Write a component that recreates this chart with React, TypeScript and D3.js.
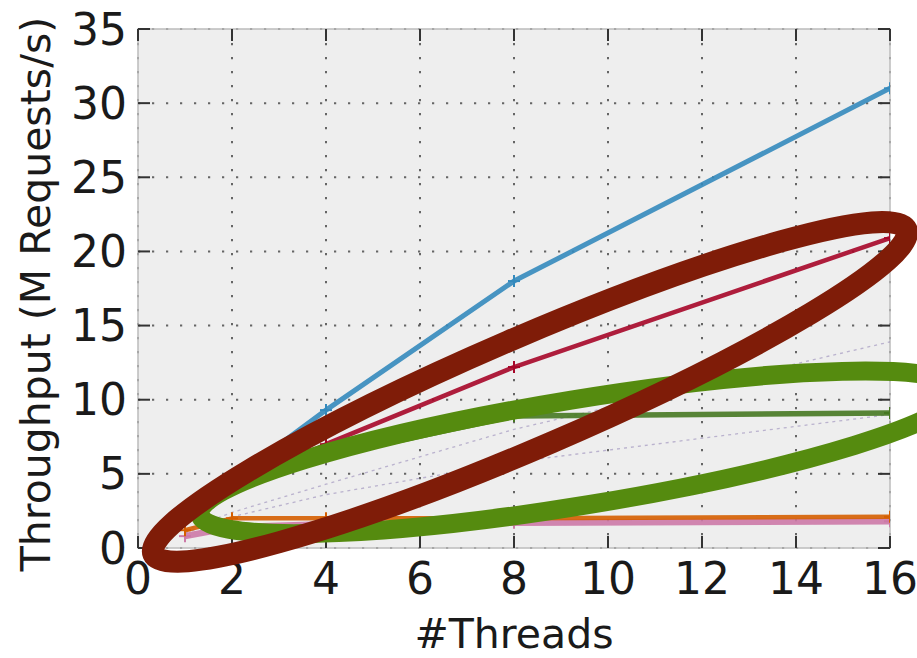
import React from "react";
import * as d3 from "d3";

const threads = [1, 2, 4, 8, 16];
const blueSeries = [2.3, 4.6, 9.3, 18.0, 31.0];
const redSeries = [2.1, 4.0, 7.0, 12.2, 20.9];
const greenSeries = [2.0, 4.0, 6.2, 8.9, 9.1];
const orangeSeries = [1.2, 2.0, 2.0, 2.0, 2.1];
const pinkSeries = [0.8, 1.4, 1.6, 1.7, 1.8];
const lilacSeriesA = [1.2, 2.4, 4.3, 8.0, 13.9];
const lilacSeriesB = [1.0, 2.1, 3.6, 5.8, 9.0];

const xTicks = [0, 2, 4, 6, 8, 10, 12, 14, 16];
const yTicks = [0, 5, 10, 15, 20, 25, 30, 35];

const W = 917;
const H = 658;
const left = 138;
const right = 890;
const top = 29;
const bottom = 548;

const FONT = "'DejaVu Sans', sans-serif";

export default function App() {
  const x = d3.scaleLinear().domain([0, 16]).range([left, right]);
  const y = d3.scaleLinear().domain([0, 35]).range([bottom, top]);
  const line = d3
    .line<number>()
    .x((_, i) => x(threads[i]))
    .y((d) => y(d));

  const solid = [
    { vals: pinkSeries, color: "#CC79A7", w: 6.5 },
    { vals: orangeSeries, color: "#D55E00", w: 4.5 },
    { vals: greenSeries, color: "#467821", w: 5.5 },
    { vals: redSeries, color: "#A60628", w: 4.5 },
    { vals: blueSeries, color: "#348ABD", w: 5 },
  ];

  // annotation ellipses, centred in data units
  const redEll = { cx: x(8.34), cy: y(10.53), rx: 410, ry: 55, rot: -23.3 };
  const greenEll = { cx: x(9.4), cy: y(6.45), rx: 385, ry: 53, rot: -9.3 };

  return (
    <svg
      width={W}
      height={H}
      style={{ position: "absolute", left: 0, top: 0, display: "block", background: "#fff" }}
    >
      <defs>
        <clipPath id="plotclip">
          <rect x={left} y={top} width={right - left} height={bottom - top} />
        </clipPath>
      </defs>
      <rect x={left} y={top} width={right - left} height={bottom - top} fill="#eeeeee" />
      {xTicks.map((t) => (
        <line
          key={"gx" + t}
          x1={x(t)}
          x2={x(t)}
          y1={top}
          y2={bottom}
          stroke="#444"
          strokeWidth={2}
          strokeDasharray="2.2 11.8"
          opacity={0.8}
        />
      ))}
      {yTicks.map((t) => (
        <line
          key={"gy" + t}
          x1={left}
          x2={right}
          y1={y(t)}
          y2={y(t)}
          stroke="#444"
          strokeWidth={2}
          strokeDasharray="2.2 11.8"
          opacity={0.8}
        />
      ))}
      <rect
        x={left}
        y={top}
        width={right - left}
        height={bottom - top}
        fill="none"
        stroke="#bcbcbc"
        strokeWidth={1.5}
      />
      {xTicks.map((t) => (
        <g key={"tx" + t} stroke="#333" strokeWidth={2}>
          <line x1={x(t)} x2={x(t)} y1={bottom} y2={bottom - 12} />
          <line x1={x(t)} x2={x(t)} y1={top} y2={top + 12} />
        </g>
      ))}
      {yTicks.map((t) => (
        <g key={"ty" + t} stroke="#333" strokeWidth={2}>
          <line x1={left} x2={left + 12} y1={y(t)} y2={y(t)} />
          <line x1={right} x2={right - 12} y1={y(t)} y2={y(t)} />
        </g>
      ))}
      <g clipPath="url(#plotclip)">
        {[lilacSeriesA, lilacSeriesB].map((s, i) => (
          <path
            key={"l" + i}
            d={line(s) || ""}
            fill="none"
            stroke="#7A68A6"
            strokeWidth={1.3}
            strokeDasharray="3 4"
            opacity={0.45}
          />
        ))}
        {solid.map((s, i) => (
          <g key={"s" + i}>
            <path
              d={line(s.vals) || ""}
              fill="none"
              stroke={s.color}
              strokeWidth={s.w}
              strokeLinejoin="round"
              opacity={0.9}
            />
            {s.vals.map((v, j) => (
              <g key={j} stroke={s.color} strokeWidth={2}>
                <line x1={x(threads[j]) - 6} x2={x(threads[j]) + 6} y1={y(v)} y2={y(v)} />
                <line x1={x(threads[j])} x2={x(threads[j])} y1={y(v) - 6} y2={y(v) + 6} />
              </g>
            ))}
          </g>
        ))}
      </g>
      {xTicks.map((t) => (
        <text
          key={"lx" + t}
          x={x(t)}
          y={594}
          textAnchor="middle"
          fontFamily={FONT}
          fontSize={44}
          fill="#1a1a1a"
        >
          {t}
        </text>
      ))}
      {yTicks.map((t) => (
        <text
          key={"ly" + t}
          x={127}
          y={y(t)}
          textAnchor="end"
          dominantBaseline="central"
          fontFamily={FONT}
          fontSize={44}
          fill="#1a1a1a"
        >
          {t}
        </text>
      ))}
      <text
        x={514}
        y={648}
        textAnchor="middle"
        fontFamily={FONT}
        fontSize={41}
        fill="#1a1a1a"
      >
        #Threads
      </text>
      <text
        transform={`translate(36, ${294}) rotate(-90)`}
        textAnchor="middle"
        dominantBaseline="central"
        fontFamily={FONT}
        fontSize={41}
        fill="#1a1a1a"
      >
        Throughput (M Requests/s)
      </text>
      <ellipse
        cx={greenEll.cx}
        cy={greenEll.cy}
        rx={greenEll.rx}
        ry={greenEll.ry}
        transform={`rotate(${greenEll.rot} ${greenEll.cx} ${greenEll.cy})`}
        fill="none"
        stroke="#558B0F"
        strokeWidth={19}
      />
      <ellipse
        cx={redEll.cx}
        cy={redEll.cy}
        rx={redEll.rx}
        ry={redEll.ry}
        transform={`rotate(${redEll.rot} ${redEll.cx} ${redEll.cy})`}
        fill="none"
        stroke="#7F1C08"
        strokeWidth={22}
      />
    </svg>
  );
}
